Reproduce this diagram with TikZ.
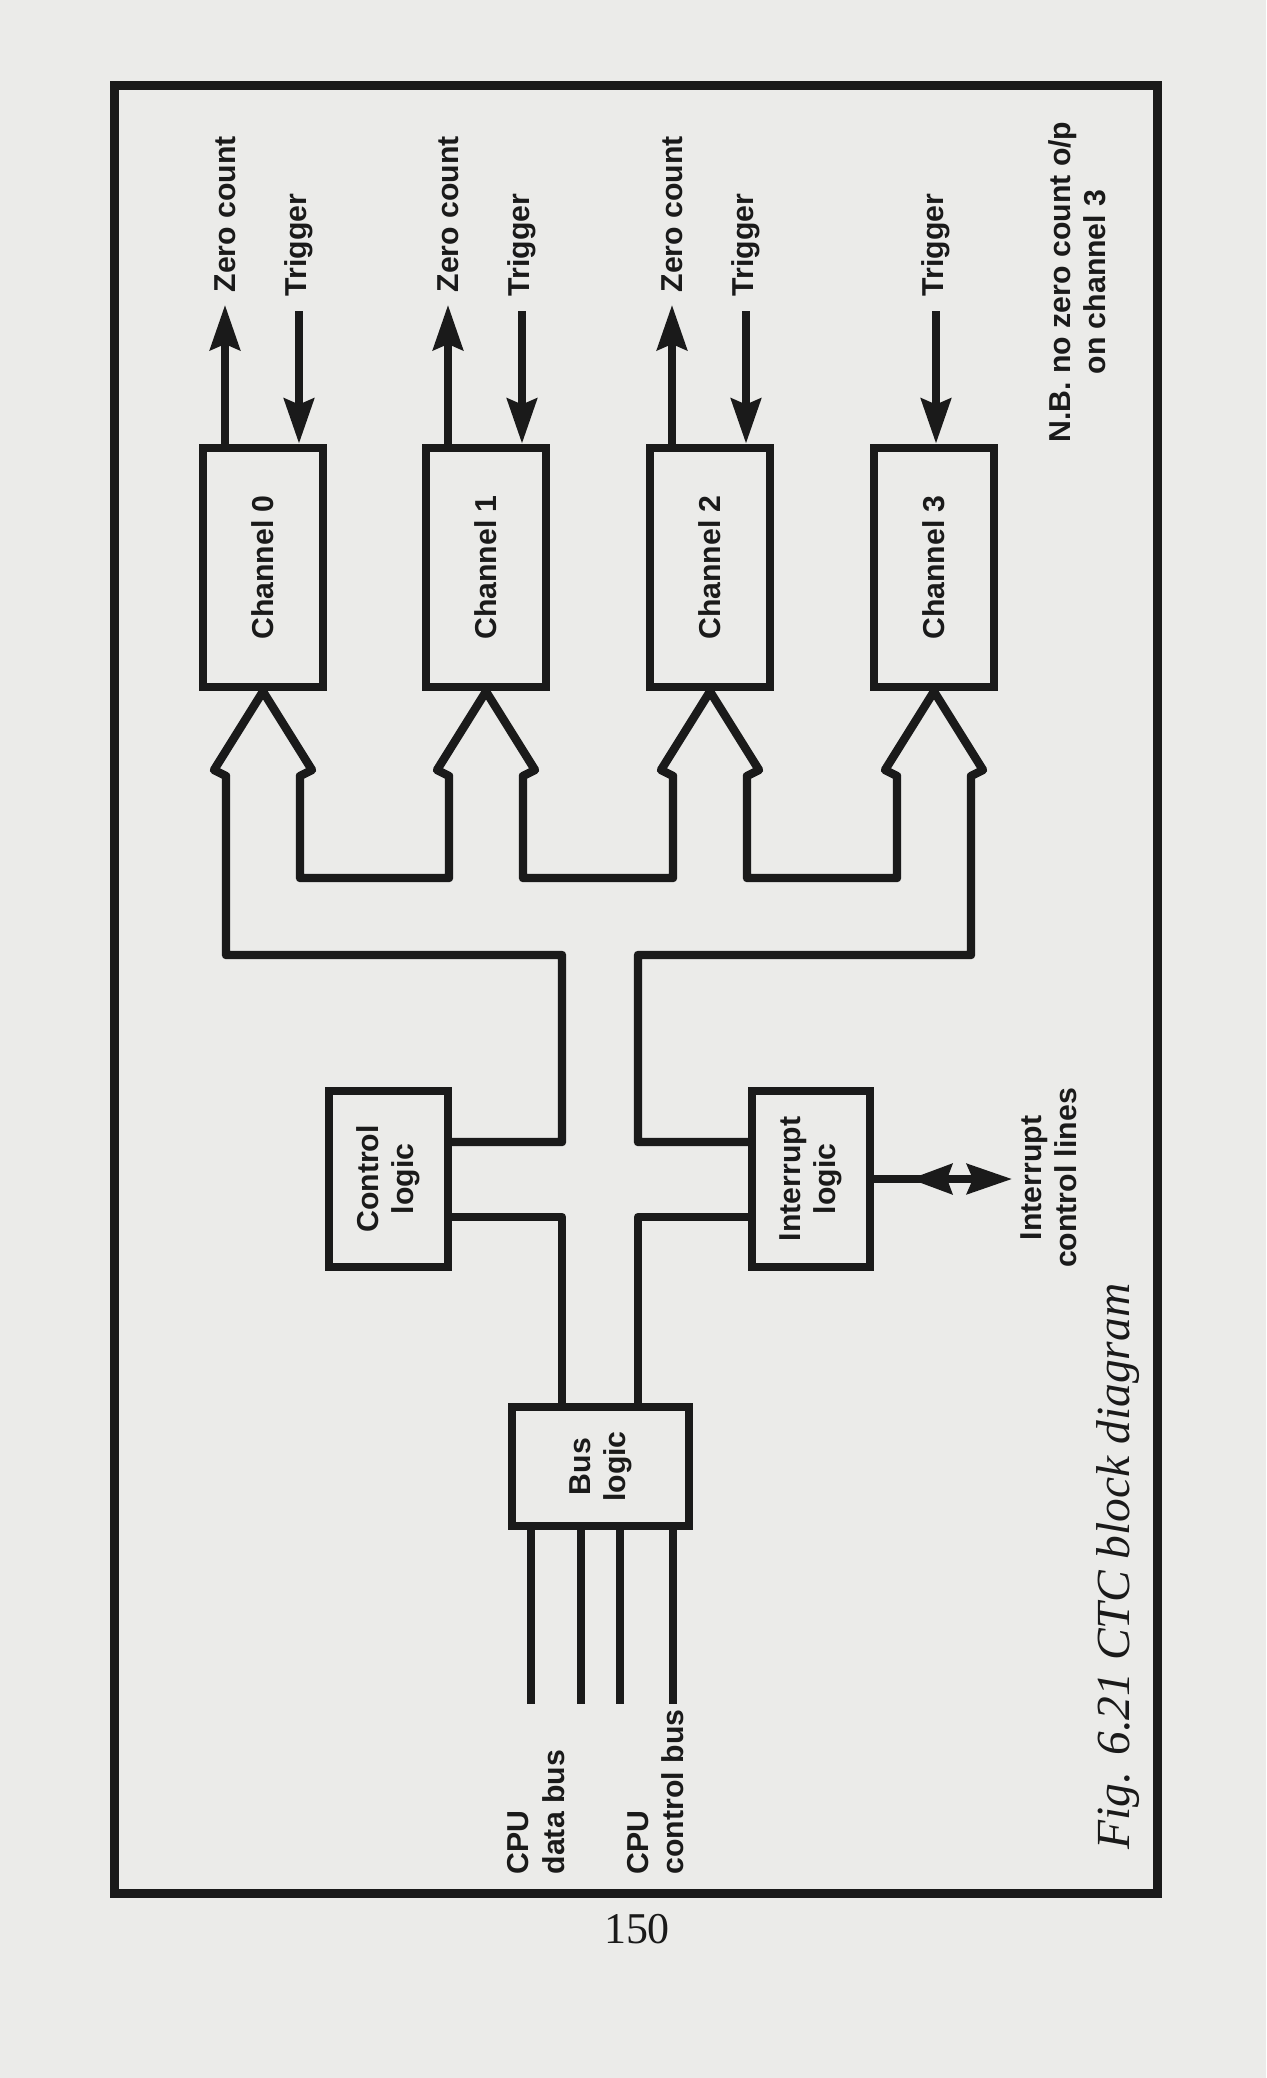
\documentclass[tikz,border=0pt]{standalone}
\usepackage{fontspec}
\setmainfont{Liberation Serif}
\newfontfamily\labfont{Liberation Sans}
\usetikzlibrary{arrows.meta,calc}
\definecolor{paper}{RGB}{235,235,233}
\definecolor{ink}{RGB}{26,26,26}
\tikzset{
  blk/.style={draw=ink, line width=2.5pt, rectangle, inner sep=0pt},
  lbl/.style={font=\labfont\bfseries\fontsize{8.6}{10}\selectfont, text=ink, inner sep=0pt, align=center},
  rlbl/.style={lbl, rotate=90},
  busline/.style={draw=ink, line width=2.4pt, line join=round, line cap=round},
  sig/.style={draw=ink, line width=2.1pt},
  arr/.style={-{Stealth[length=0.45cm,width=0.30cm,inset=0.06cm]}},
  rarr/.style={{Stealth[length=0.42cm,width=0.30cm,inset=0.05cm]}-},
}
\begin{document}
\begin{tikzpicture}[x=0.01cm,y=-0.01cm]
\useasboundingbox (0,0) rectangle (1266,2078);
\fill[paper] (0,0) rectangle (1266,2078);
% frame
\node[draw=ink, line width=2.5pt, minimum width=10.42cm, minimum height=18.07cm, inner sep=0pt] (frame) at (636,989.5) {};
% channels
\foreach \i/\x in {0/263,1/486,2/710,3/934}{
  \node[blk, minimum width=1.2cm, minimum height=2.39cm] (ch\i) at (\x,567.5) {};
  \node[rlbl] (lab\i) at (ch\i) {Channel \i};
}
% zero count outputs
\foreach \i/\x in {0/263,1/486,2/710}{
  \coordinate (z\i) at (\x-38,305);
  \draw[sig,arr] (ch\i.north -| z\i) -- (z\i);
  \node[rlbl, anchor=west] (zl\i) at (\x-38,293) {Zero count};
}
% trigger inputs
\foreach \i/\x in {0/299,1/522,2/746,3/936}{
  \coordinate (t\i) at (\x,311);
  \draw[sig,arr] (t\i) -- (t\i |- ch\i.north);
  \node[rlbl, anchor=west] (tl\i) at (\x,297) {Trigger};
}
\node[rlbl] (nb) at (1077,282) {N.B. no zero count o/p\\on channel 3};
% logic blocks
\node[blk, minimum width=1.19cm, minimum height=1.76cm] (ctl) at (388.5,1179) {};
\node[rlbl] (ctll) at (ctl) {Control\\logic};
\node[blk, minimum width=1.18cm, minimum height=1.76cm] (int) at (811,1179) {};
\node[rlbl] (intl) at (int) {Interrupt\\logic};
\node[blk, minimum width=1.77cm, minimum height=1.19cm] (bus) at (600.5,1466.5) {};
\node[rlbl] (busl) at (bus) {Bus\\logic};
% internal bus outline
\coordinate (yb1) at (0,1142);
\coordinate (yb2) at (0,1217);
\coordinate (bl) at (562,0);
\coordinate (br) at (638,0);
\draw[busline] (ctl.east |- yb1) -- (562,1142) -- (562,955) -- (226,955)
  -- (226,776) -- (214,770) -- (ch0.south) -- (312,770) -- (300,776) -- (300,878)
  -- (449,878) -- (449,776) -- (437,770) -- (ch1.south) -- (535,770) -- (523,776) -- (523,878)
  -- (673,878) -- (673,776) -- (661,770) -- (ch2.south) -- (759,770) -- (747,776) -- (747,878)
  -- (897,878) -- (897,776) -- (885,770) -- (ch3.south) -- (983,770) -- (971,776) -- (971,955)
  -- (638,955) -- (638,1142) -- (int.west |- yb1);
\draw[busline] (ctl.east |- yb2) -- (bl |- yb2) -- (bl |- bus.north);
\draw[busline] (int.west |- yb2) -- (br |- yb2) -- (br |- bus.north);
% CPU bus lines
\foreach \x in {531,581,620,673}{
  \coordinate (q) at (\x,1704);
  \draw[sig] (q |- bus.south) -- (q);
}
\node[rlbl, anchor=west, align=left] (cpud) at (536,1875) {CPU\\data bus};
\node[rlbl, anchor=west, align=left] (cpuc) at (656,1875) {CPU\\control bus};
% interrupt control lines
\coordinate (ie) at (1012,1179);
\coordinate (rt) at (910,1179);
\coordinate (rb) at (955,1179);
\draw[sig,arr] (int.east) -- (ie);
\draw[sig,rarr] (rt) -- (rb);
\node[rlbl] (icl) at (1049,1178) {Interrupt\\control lines};
% caption and page number
\node[rotate=90, anchor=base west, font=\itshape\fontsize{13.5}{15}\selectfont, text=ink, inner sep=0pt] (cap) at (1129,1850) {Fig. 6.21 CTC block diagram};
\node[font=\fontsize{12.5}{14}\selectfont, text=ink, inner sep=0pt] (pg) at (637,1929) {150};
\end{tikzpicture}
\end{document}
